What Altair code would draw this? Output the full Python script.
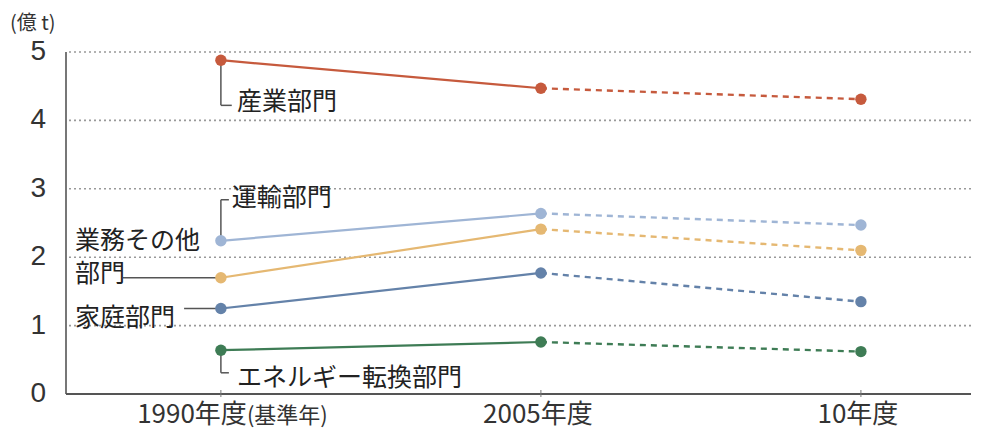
import altair as alt
import pandas as pd

# ---- data ----
periods = ["1990年度", "2005年度", "10年度"]
period_pos = [0, 1, 2]
base_note = "(基準年)"
sectors = ["産業部門", "運輸部門", "業務その他部門", "家庭部門", "エネルギー転換部門"]
colors = ["#c65a3d", "#9fb5d5", "#e5b872", "#6482a9", "#3e7c55"]
industry = [4.88, 4.47, 4.31]
transport = [2.24, 2.64, 2.47]
commercial = [1.70, 2.41, 2.10]
household = [1.25, 1.77, 1.35]
energy = [0.64, 0.76, 0.62]
y_ticks = [0, 1, 2, 3, 4, 5]
grid_ticks = [1, 2, 3, 4, 5]
unit_label = "(億 t)"

# annotation labels (data units)
label_text = ["産業部門", "運輸部門", "業務その他", "部門", "家庭部門", "エネルギー転換部門"]
label_x = [0.05, 0.034, -0.456, -0.456, -0.456, 0.05]
label_y = [4.27, 2.87, 2.23, 1.76, 1.11, 0.23]

# leader lines (x, y, x2, y2)
leader_x = [0, 0, 0, 0, -0.306, -0.115, 0, 0]
leader_y = [4.88, 4.22, 2.24, 2.84, 1.70, 1.25, 0.64, 0.31]
leader_x2 = [0, 0.034, 0, 0.025, 0, 0, 0, 0.025]
leader_y2 = [4.22, 4.22, 2.84, 2.84, 1.70, 1.25, 0.31, 0.31]

# ---- tables ----
series = [industry, transport, commercial, household, energy]
rows = []
for name, vals in zip(sectors, series):
    for i, (p, v) in enumerate(zip(period_pos, vals)):
        rows.append({"sector": name, "pos": p, "value": v, "period": periods[i]})
df = pd.DataFrame(rows)
solid = df[df["pos"] <= 1]
dashed = df[df["pos"] >= 1]

labels = pd.DataFrame({"text": label_text, "pos": label_x, "value": label_y})
leaders = pd.DataFrame({"pos": leader_x, "value": leader_y, "pos2": leader_x2, "value2": leader_y2})
xlab = pd.DataFrame({"period": periods, "pos": period_pos})
ytab = pd.DataFrame({"value": y_ticks, "label": [str(v) for v in y_ticks]})
gtab = pd.DataFrame({"value": grid_ticks})

W, H = 905, 342
FONT = "Noto Sans CJK JP"

xscale = alt.Scale(domain=[-0.484, 2.344], nice=False, zero=False)
yscale = alt.Scale(domain=[0, 5], nice=False)
cscale = alt.Scale(domain=sectors, range=colors)


def X():
    return alt.X("pos:Q", scale=xscale, axis=None)


def Y():
    return alt.Y("value:Q", scale=yscale, axis=None)


color = alt.Color("sector:N", scale=cscale, legend=None)

# hand-drawn axes and gridlines (through the shared scales)
grid_layer = alt.Chart(gtab).mark_rule(color="#999999", strokeWidth=1.6, strokeDash=[2, 3]).encode(
    y=Y(), x=alt.value(3), x2=alt.value(W))

yaxis_line = alt.Chart(gtab).mark_rule(color="#777777", strokeWidth=2).encode(
    x=alt.value(0), y=alt.value(0), y2=alt.value(H))

xaxis_line = alt.Chart(gtab).mark_rule(color="#555555", strokeWidth=2).encode(
    y=alt.value(H), x=alt.value(0), x2=alt.value(W))

xtick_layer = alt.Chart(xlab).mark_rule(color="#777777", strokeWidth=1).encode(
    x=X(), y=alt.value(H - 4), y2=alt.value(H + 3))

ylabel_layer = alt.Chart(ytab).mark_text(
    align="right", baseline="middle", fontSize=28, font="Liberation Sans", color="#333").encode(
    y=Y(), x=alt.value(-20), text="label:N")

leader_layer = alt.Chart(leaders).mark_rule(color="#555", strokeWidth=1.5).encode(
    x=X(), y=Y(), x2="pos2:Q", y2="value2:Q")

solid_layer = alt.Chart(solid).mark_line(strokeWidth=2.2).encode(
    x=X(), y=Y(), color=color, detail="sector:N")

dashed_layer = alt.Chart(dashed).mark_line(strokeWidth=2.4, strokeDash=[6, 5]).encode(
    x=X(), y=Y(), color=color, detail="sector:N")

point_layer = alt.Chart(df).mark_point(filled=True, size=130, opacity=1).encode(
    x=X(), y=Y(), color=color)

label_layer = alt.Chart(labels).mark_text(align="left", baseline="middle", fontSize=25,
                                          font=FONT, color="#222").encode(
    x=X(), y=Y(), text="text:N")

unit_layer = alt.Chart(xlab[xlab["pos"] == 0]).mark_text(
    align="left", baseline="middle", fontSize=20, font=FONT, color="#333").encode(
    x=alt.value(-56), y=alt.value(-28), text=alt.value(unit_label))

xl_main = alt.Chart(xlab[xlab["pos"] >= 1]).mark_text(
    align="center", baseline="middle", fontSize=26, font=FONT, color="#333", dx=-3).encode(
    x=X(), y=alt.value(H + 21), text="period:N")

xl_first = alt.Chart(xlab[xlab["pos"] == 0]).mark_text(
    align="right", baseline="middle", fontSize=26, font=FONT, color="#333", dx=26).encode(
    x=X(), y=alt.value(H + 21), text="period:N")

xl_note = alt.Chart(xlab[xlab["pos"] == 0]).mark_text(
    align="left", baseline="middle", fontSize=22, font=FONT, color="#333", dx=26).encode(
    x=X(), y=alt.value(H + 22), text=alt.value(base_note))

chart = alt.layer(
    grid_layer, yaxis_line, xaxis_line, xtick_layer, ylabel_layer,
    solid_layer, leader_layer, dashed_layer, point_layer, label_layer, unit_layer,
    xl_main, xl_first, xl_note
).properties(
    width=W, height=H,
    autosize=alt.AutoSizeParams(type="none"),
    padding={"left": 58, "top": 44, "right": 2, "bottom": 36},
    background="white",
    view=alt.ViewBackground(stroke="transparent", strokeWidth=0),
).configure(font=FONT).configure_view(strokeWidth=0, stroke="transparent")

chart.save("out.html", embed_options={"renderer": "svg", "actions": False})
